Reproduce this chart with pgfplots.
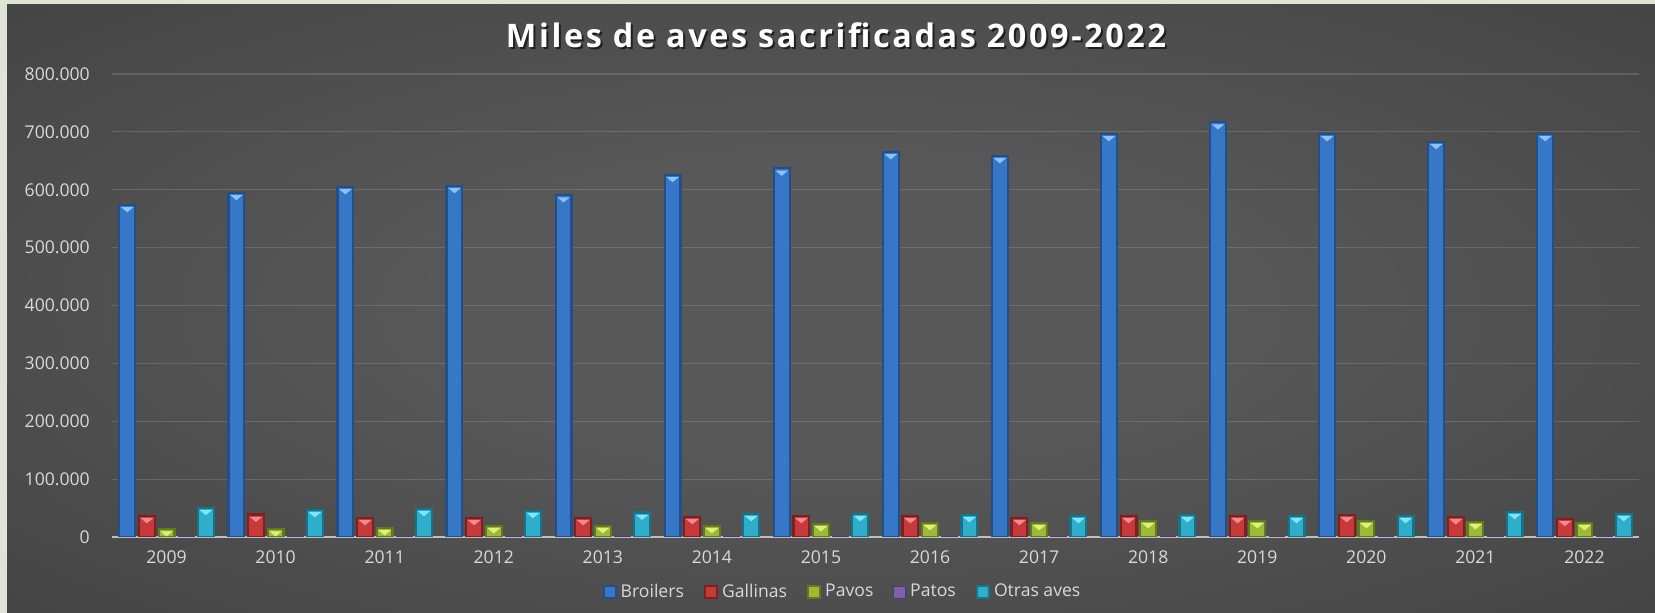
\documentclass[border=0pt]{standalone}
\usepackage{fontspec}
\setmainfont{Open Sans}
\newfontfamily\titlefont[LetterSpace=8]{Open Sans}
\usepackage{pgfplots}
\usepackage{pgfplotstable}
\usetikzlibrary{shapes.geometric}
\pgfplotsset{compat=1.18}

\definecolor{frame}{HTML}{DFE5D5}
\definecolor{bgin}{HTML}{585858}
\definecolor{bgout}{HTML}{262626}
\definecolor{tickgray}{HTML}{D9D9D9}
\definecolor{bedge}{HTML}{234F88}\definecolor{bmid}{HTML}{3677C8}\definecolor{bcap}{HTML}{8CC2F5}
\definecolor{gedge}{HTML}{7E2022}\definecolor{gmid}{HTML}{C63A3C}\definecolor{gcap}{HTML}{F2898A}
\definecolor{pedge}{HTML}{62791E}\definecolor{pmid}{HTML}{9CBA35}\definecolor{pcap}{HTML}{DDF07A}
\definecolor{aedge}{HTML}{4F3773}\definecolor{amid}{HTML}{7F5EAE}
\definecolor{oedge}{HTML}{17738A}\definecolor{omid}{HTML}{2EAECB}\definecolor{ocap}{HTML}{7FE6F8}

\pgfdeclareradialshading{bgshade}{\pgfpoint{0bp}{0bp}}{color(0bp)=(bgin); color(12bp)=(bgin); color(72bp)=(bgout)}

\pgfplotstableread{
x B G P Pa O
0 574000 36600 13900 600 50500
1 594800 38900 13900 600 47000
2 605000 33100 15700 600 48800
3 607000 33100 19200 600 45300
4 591000 33100 19200 600 42400
5 626000 34800 19200 600 40100
6 637000 36600 22600 600 40100
7 665500 36600 24400 600 38300
8 658600 33100 24400 600 36600
9 696600 36600 27900 600 38300
10 717000 36600 27900 600 36600
11 696600 38300 27900 600 36600
12 683000 34800 26100 600 43600
13 696600 31400 24400 600 40100
}\datatable

\tikzset{cap/.style 2 args={shape=isosceles triangle, shape border rotate=-90,
  isosceles triangle stretches, minimum width=6.2bp, minimum height=2.6bp,
  inner sep=0pt, draw=none, fill=#1, anchor=north,
  shift={(axis direction cs:#2,0)}, yshift=-0.6bp}}

\begin{document}
\begin{tikzpicture}
\useasboundingbox (0,0) rectangle (827.5bp,306.5bp);
\fill[frame] (0,0) rectangle (827.5bp,306.5bp);
\shade[shading=bgshade] (3.5bp,0) rectangle (827.5bp,304bp);
\begin{axis}[
  at={(56bp,38bp)}, anchor=south west,
  scale only axis,
  width=763.5bp, height=231.5bp,
  xmin=-0.5, xmax=13.5,
  ymin=0, ymax=800000,
  scaled y ticks=false,
  xtick={0,...,13},
  xticklabels={2009,2010,2011,2012,2013,2014,2015,2016,2017,2018,2019,2020,2021,2022},
  ytick={0,100000,...,800000},
  yticklabels={0,100.000,200.000,300.000,400.000,500.000,600.000,700.000,800.000},
  /pgf/number format/assume math mode=true,
  axis line style={draw=none},
  tick style={draw=none},
  ymajorgrids,
  grid style={color=white, opacity=0.14, line width=0.6bp},
  extra y ticks={0},
  extra y tick labels={},
  extra y tick style={grid style={color=white!75!black, opacity=1, line width=1bp}},
  ticklabel style={font=\fontsize{8.8bp}{10bp}\selectfont, text=tickgray},
  xticklabel style={anchor=center, yshift=-10bp},
  yticklabel style={anchor=east, xshift=-7.6bp},
  bar width=0.145,
  legend columns=-1,
  legend style={at={(0.479,-0.119)}, anchor=center, draw=none, fill=none,
    font=\fontsize{8.8bp}{10bp}\selectfont, text=tickgray,
    /tikz/every even column/.append style={column sep=8bp}},
  legend cell align=left,
  legend image code/.code={\fill[#1] (0bp,-3bp) rectangle (6bp,3bp);},
]
\addplot[ybar, bar shift=-0.36, draw=bedge, line width=1.1bp, fill=bmid,
  nodes near coords={}, every node near coord/.style={cap={bcap}{-0.36}}] table[x=x,y=B]{\datatable};
\addlegendentry{Broilers}
\addplot[ybar, bar shift=-0.18, draw=gedge, line width=1.1bp, fill=gmid,
  nodes near coords={}, every node near coord/.style={cap={gcap}{-0.18}}] table[x=x,y=G]{\datatable};
\addlegendentry{Gallinas}
\addplot[ybar, bar shift=0, draw=pedge, line width=1.1bp, fill=pmid,
  nodes near coords={}, every node near coord/.style={cap={pcap}{0}}] table[x=x,y=P]{\datatable};
\addlegendentry{Pavos}
\addplot[ybar, bar shift=0.18, draw=aedge, line width=0.4bp, fill=amid] table[x=x,y=Pa]{\datatable};
\addlegendentry{Patos}
\addplot[ybar, bar shift=0.36, draw=oedge, line width=1.1bp, fill=omid,
  nodes near coords={}, every node near coord/.style={cap={ocap}{0.36}}] table[x=x,y=O]{\datatable};
\addlegendentry{Otras aves}
\end{axis}
\node[text=black, opacity=0.6, font=\titlefont\bfseries\fontsize{16.2bp}{19bp}\selectfont] at (419bp,288bp) {Miles de aves sacrificadas 2009-2022};
\node[text=white, font=\titlefont\bfseries\fontsize{16.2bp}{19bp}\selectfont] at (418bp,289bp) {Miles de aves sacrificadas 2009-2022};
\end{tikzpicture}
\end{document}
